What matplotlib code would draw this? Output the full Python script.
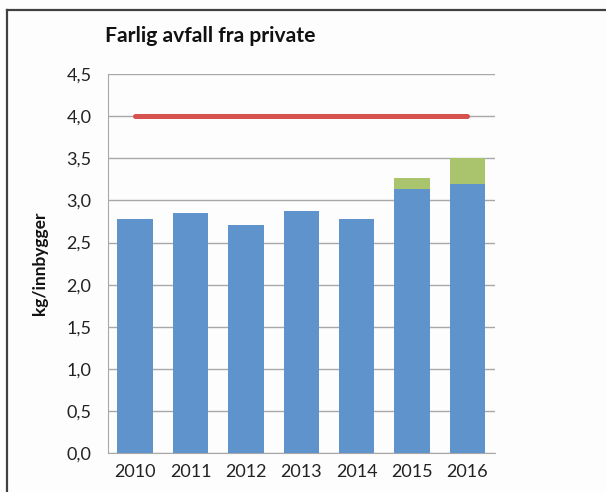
import matplotlib
matplotlib.use("Agg")
import matplotlib.pyplot as plt
from matplotlib.lines import Line2D
from matplotlib.ticker import FuncFormatter

years = ["2010", "2011", "2012", "2013", "2014", "2015", "2016"]
blue_vals = [2.78, 2.85, 2.71, 2.88, 2.78, 3.13, 3.20]
green_vals = [0.0, 0.0, 0.0, 0.0, 0.0, 0.14, 0.30]
target = [4.0] * len(years)
yticks = [0.0, 0.5, 1.0, 1.5, 2.0, 2.5, 3.0, 3.5, 4.0, 4.5]

plt.rcParams['font.family'] = ['Lato', 'DejaVu Sans']

fig = plt.figure(figsize=(6.06, 4.92), dpi=100, facecolor="#fdfdfd")
ax = fig.add_axes([0.1774, 0.0787, 0.6394, 0.7709])
ax.set_facecolor("#fdfdfd")

x = list(range(len(years)))
ax.bar(x, blue_vals, width=0.64, color="#5f93cb", zorder=3)
ax.bar(x, green_vals, width=0.64, bottom=blue_vals, color="#a9c46c", zorder=3)
ax.plot(x, target, color="#d6524f", linewidth=3.6, solid_capstyle="round", zorder=4)

ax.set_xlim(-0.5, len(years) - 0.5)
ax.set_ylim(0, 4.5)
ax.set_yticks(yticks)
ax.yaxis.set_major_formatter(FuncFormatter(lambda v, p: f"{v:.1f}".replace(".", ",")))
ax.set_xticks(x)
ax.set_xticklabels(years)
ax.grid(axis="y", color="#a8a8a8", linewidth=1.0, zorder=0)
for s in ["top", "right"]:
    ax.spines[s].set_visible(False)
ax.spines["bottom"].set_color("#a8a8a8")
ax.spines["left"].set_color("#a8a8a8")
ax.tick_params(axis="both", length=0, labelsize=13, colors="#222222")
ax.tick_params(axis="y", pad=11.5)
ax.tick_params(axis="x", pad=8)

ax.set_ylabel("kg/innbygger", fontsize=12.5, fontweight="bold", color="#111111", labelpad=13)
fig.text(105 / 606, 1 - 36 / 492, "Farlig avfall fra private", fontsize=15.2,
         fontweight="bold", color="#111111", ha="left", va="center")

fig.add_artist(Line2D([7 / 606, 7 / 606], [0, 1 - 10 / 492], transform=fig.transFigure,
                      color="#404040", linewidth=1.6))
fig.add_artist(Line2D([7 / 606, 1], [1 - 10 / 492, 1 - 10 / 492], transform=fig.transFigure,
                      color="#404040", linewidth=1.6))

fig.savefig("out.png", dpi=100, facecolor=fig.get_facecolor())
